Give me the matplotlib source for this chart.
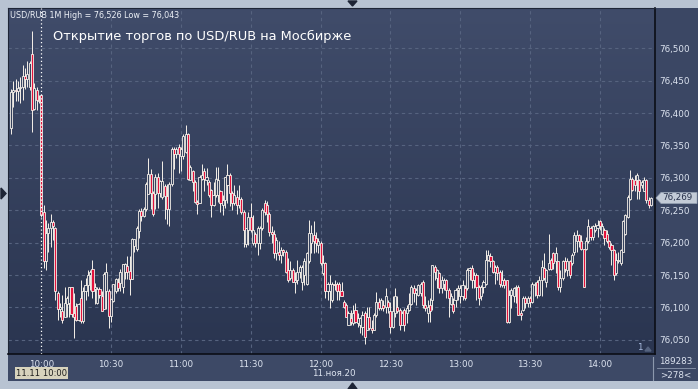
import numpy as np
import matplotlib
matplotlib.use('Agg')
import matplotlib.pyplot as plt
from matplotlib.colors import LinearSegmentedColormap
from matplotlib.patches import Rectangle, Polygon

# USD/RUB 1-minute candles, 11.11.2020; minutes counted from 10:00
minutes = np.arange(-13, 263)

opens = [
    76.377, 76.432, 76.436, 76.434, 76.438, 76.440, 76.458, 76.452, 76.440, 76.491,
    76.407, 76.436, 76.420, 76.428, 76.248, 76.171, 76.215, 76.222, 76.232, 76.222,
    76.122, 76.097, 76.094, 76.086, 76.105, 76.107, 76.132, 76.091, 76.102, 76.081,
    76.114, 76.079, 76.125, 76.135, 76.150, 76.159, 76.128, 76.107, 76.128, 76.118,
    76.097, 76.125, 76.125, 76.087, 76.110, 76.125, 76.140, 76.138, 76.131, 76.154,
    76.164, 76.156, 76.144, 76.195, 76.190, 76.218, 76.249, 76.241, 76.252, 76.275,
    76.306, 76.277, 76.275, 76.301, 76.277, 76.270, 76.288, 76.272, 76.252, 76.290,
    76.344, 76.337, 76.347, 76.334, 76.334, 76.340, 76.367, 76.297, 76.310, 76.294,
    76.263, 76.262, 76.299, 76.310, 76.297, 76.294, 76.281, 76.258, 76.274, 76.274,
    76.279, 76.258, 76.266, 76.289, 76.305, 76.276, 76.261, 76.271, 76.258, 76.268,
    76.248, 76.198, 76.220, 76.239, 76.199, 76.214, 76.199, 76.199, 76.222, 76.261,
    76.258, 76.245, 76.217, 76.214, 76.184, 76.186, 76.181, 76.189, 76.186, 76.158,
    76.145, 76.158, 76.140, 76.143, 76.155, 76.140, 76.150, 76.137, 76.171, 76.199,
    76.212, 76.207, 76.197, 76.199, 76.153, 76.168, 76.125, 76.125, 76.112, 76.137,
    76.137, 76.137, 76.125, 76.109, 76.104, 76.073, 76.083, 76.076, 76.096, 76.076,
    76.073, 76.070, 76.091, 76.065, 76.086, 76.068, 76.065, 76.088, 76.109, 76.099,
    76.104, 76.101, 76.109, 76.094, 76.070, 76.091, 76.101, 76.096, 76.073, 76.096,
    76.091, 76.096, 76.106, 76.130, 76.122, 76.119, 76.122, 76.140, 76.104, 76.091,
    76.104, 76.112, 76.163, 76.145, 76.153, 76.130, 76.137, 76.142, 76.127, 76.106,
    76.106, 76.112, 76.127, 76.117, 76.117, 76.130, 76.130, 76.158, 76.161, 76.143,
    76.150, 76.132, 76.117, 76.132, 76.137, 76.173, 76.180, 76.171, 76.155, 76.163,
    76.155, 76.135, 76.143, 76.143, 76.078, 76.119, 76.117, 76.130, 76.132, 76.091,
    76.096, 76.114, 76.107, 76.114, 76.109, 76.135, 76.140, 76.119, 76.143, 76.161,
    76.140, 76.160, 76.173, 76.184, 76.171, 76.171, 76.132, 76.145, 76.171, 76.158,
    76.171, 76.168, 76.186, 76.202, 76.212, 76.202, 76.191, 76.191, 76.202, 76.222,
    76.209, 76.220, 76.222, 76.233, 76.214, 76.220, 76.214, 76.202, 76.196, 76.189,
    76.153, 76.171, 76.168, 76.186, 76.214, 76.240, 76.268, 76.299, 76.297, 76.297,
    76.297, 76.289, 76.279, 76.297, 76.266, 76.258,
]
highs = [
    76.437, 76.449, 76.452, 76.450, 76.456, 76.474, 76.470, 76.480, 76.480, 76.526,
    76.446, 76.440, 76.428, 76.430, 76.258, 76.235, 76.230, 76.245, 76.235, 76.224,
    76.125, 76.107, 76.120, 76.132, 76.117, 76.132, 76.132, 76.122, 76.107, 76.107,
    76.143, 76.132, 76.145, 76.158, 76.158, 76.174, 76.138, 76.131, 76.131, 76.125,
    76.154, 76.169, 76.128, 76.113, 76.136, 76.146, 76.146, 76.159, 76.167, 76.169,
    76.180, 76.180, 76.208, 76.206, 76.226, 76.252, 76.254, 76.255, 76.293, 76.331,
    76.313, 76.280, 76.306, 76.308, 76.296, 76.326, 76.290, 76.290, 76.293, 76.347,
    76.347, 76.347, 76.352, 76.347, 76.368, 76.382, 76.369, 76.320, 76.312, 76.296,
    76.266, 76.304, 76.321, 76.315, 76.315, 76.297, 76.283, 76.294, 76.317, 76.317,
    76.281, 76.274, 76.302, 76.321, 76.307, 76.279, 76.289, 76.281, 76.289, 76.271,
    76.250, 76.222, 76.248, 76.261, 76.243, 76.217, 76.225, 76.225, 76.253, 76.266,
    76.264, 76.248, 76.225, 76.220, 76.209, 76.202, 76.194, 76.191, 76.189, 76.176,
    76.171, 76.161, 76.155, 76.173, 76.166, 76.166, 76.176, 76.186, 76.235, 76.227,
    76.233, 76.217, 76.207, 76.202, 76.181, 76.170, 76.140, 76.150, 76.140, 76.143,
    76.140, 76.140, 76.140, 76.112, 76.107, 76.094, 76.096, 76.104, 76.107, 76.091,
    76.086, 76.094, 76.094, 76.101, 76.101, 76.081, 76.091, 76.124, 76.114, 76.114,
    76.112, 76.130, 76.112, 76.109, 76.117, 76.130, 76.117, 76.099, 76.094, 76.099,
    76.104, 76.122, 76.135, 76.135, 76.130, 76.137, 76.140, 76.142, 76.117, 76.112,
    76.114, 76.166, 76.166, 76.160, 76.154, 76.148, 76.145, 76.144, 76.130, 76.122,
    76.114, 76.130, 76.135, 76.135, 76.143, 76.135, 76.161, 76.163, 76.166, 76.155,
    76.153, 76.135, 76.135, 76.143, 76.189, 76.189, 76.184, 76.173, 76.166, 76.166,
    76.158, 76.158, 76.145, 76.143, 76.127, 76.130, 76.132, 76.135, 76.135, 76.096,
    76.117, 76.117, 76.117, 76.117, 76.140, 76.140, 76.143, 76.148, 76.173, 76.184,
    76.160, 76.213, 76.176, 76.186, 76.194, 76.171, 76.158, 76.173, 76.178, 76.176,
    76.173, 76.184, 76.217, 76.220, 76.214, 76.212, 76.191, 76.209, 76.237, 76.225,
    76.227, 76.230, 76.235, 76.235, 76.230, 76.222, 76.220, 76.204, 76.199, 76.191,
    76.184, 76.186, 76.191, 76.235, 76.245, 76.274, 76.312, 76.302, 76.304, 76.307,
    76.299, 76.297, 76.302, 76.299, 76.271, 76.271,
]
lows = [
    76.368, 76.410, 76.418, 76.418, 76.415, 76.420, 76.437, 76.440, 76.436, 76.371,
    76.405, 76.405, 76.415, 76.240, 76.161, 76.158, 76.185, 76.194, 76.204, 76.112,
    76.081, 76.086, 76.076, 76.086, 76.086, 76.086, 76.086, 76.053, 76.079, 76.079,
    76.076, 76.076, 76.112, 76.117, 76.127, 76.115, 76.105, 76.105, 76.115, 76.095,
    76.097, 76.097, 76.069, 76.077, 76.108, 76.123, 76.125, 76.125, 76.123, 76.144,
    76.144, 76.120, 76.144, 76.185, 76.187, 76.208, 76.234, 76.240, 76.249, 76.275,
    76.252, 76.241, 76.252, 76.254, 76.270, 76.267, 76.236, 76.229, 76.226, 76.288,
    76.313, 76.330, 76.308, 76.310, 76.329, 76.338, 76.297, 76.297, 76.279, 76.262,
    76.245, 76.262, 76.297, 76.279, 76.289, 76.271, 76.240, 76.256, 76.271, 76.263,
    76.248, 76.243, 76.253, 76.261, 76.256, 76.250, 76.258, 76.245, 76.253, 76.245,
    76.194, 76.194, 76.196, 76.216, 76.196, 76.194, 76.181, 76.191, 76.220, 76.243,
    76.232, 76.210, 76.199, 76.176, 76.173, 76.173, 76.168, 76.179, 76.153, 76.140,
    76.143, 76.140, 76.122, 76.137, 76.145, 76.127, 76.135, 76.135, 76.168, 76.184,
    76.184, 76.186, 76.184, 76.166, 76.150, 76.114, 76.112, 76.099, 76.109, 76.127,
    76.112, 76.112, 76.117, 76.099, 76.086, 76.073, 76.073, 76.073, 76.076, 76.070,
    76.060, 76.058, 76.043, 76.065, 76.065, 76.060, 76.065, 76.086, 76.096, 76.096,
    76.094, 76.091, 76.091, 76.060, 76.068, 76.086, 76.091, 76.065, 76.073, 76.063,
    76.076, 76.094, 76.104, 76.109, 76.104, 76.117, 76.117, 76.099, 76.094, 76.078,
    76.078, 76.096, 76.142, 76.130, 76.122, 76.122, 76.127, 76.114, 76.086, 76.104,
    76.091, 76.101, 76.112, 76.107, 76.112, 76.112, 76.127, 76.143, 76.130, 76.130,
    76.112, 76.104, 76.112, 76.122, 76.135, 76.171, 76.163, 76.153, 76.137, 76.143,
    76.132, 76.132, 76.130, 76.076, 76.076, 76.099, 76.109, 76.107, 76.089, 76.081,
    76.094, 76.099, 76.101, 76.101, 76.107, 76.117, 76.114, 76.117, 76.117, 76.143,
    76.132, 76.158, 76.158, 76.160, 76.153, 76.127, 76.124, 76.142, 76.155, 76.148,
    76.145, 76.166, 76.181, 76.186, 76.194, 76.189, 76.132, 76.189, 76.199, 76.204,
    76.204, 76.217, 76.209, 76.220, 76.212, 76.196, 76.199, 76.191, 76.166, 76.142,
    76.150, 76.168, 76.166, 76.186, 76.212, 76.238, 76.266, 76.279, 76.279, 76.268,
    76.268, 76.284, 76.279, 76.261, 76.253, 76.256,
]
closes = [
    76.432, 76.436, 76.434, 76.438, 76.440, 76.458, 76.452, 76.460, 76.478, 76.405,
    76.438, 76.420, 76.418, 76.243, 76.171, 76.215, 76.222, 76.232, 76.225, 76.125,
    76.097, 76.100, 76.081, 76.107, 76.115, 76.132, 76.090, 76.086, 76.081, 76.105,
    76.079, 76.125, 76.135, 76.150, 76.155, 76.125, 76.131, 76.128, 76.120, 76.095,
    76.151, 76.154, 76.087, 76.113, 76.136, 76.144, 76.130, 76.154, 76.167, 76.167,
    76.154, 76.144, 76.205, 76.205, 76.223, 76.249, 76.241, 76.252, 76.290, 76.306,
    76.277, 76.244, 76.301, 76.277, 76.295, 76.295, 76.272, 76.252, 76.290, 76.344,
    76.337, 76.345, 76.337, 76.345, 76.365, 76.367, 76.299, 76.317, 76.294, 76.263,
    76.260, 76.302, 76.304, 76.299, 76.302, 76.274, 76.258, 76.274, 76.299, 76.297,
    76.261, 76.266, 76.302, 76.305, 76.276, 76.261, 76.274, 76.258, 76.268, 76.248,
    76.220, 76.222, 76.239, 76.220, 76.220, 76.199, 76.222, 76.223, 76.250, 76.248,
    76.245, 76.217, 76.214, 76.184, 76.204, 76.181, 76.189, 76.186, 76.155, 76.143,
    76.158, 76.140, 76.143, 76.155, 76.163, 76.163, 76.171, 76.184, 76.215, 76.215,
    76.202, 76.199, 76.202, 76.168, 76.168, 76.125, 76.137, 76.137, 76.137, 76.135,
    76.125, 76.125, 76.117, 76.101, 76.086, 76.091, 76.078, 76.091, 76.078, 76.083,
    76.083, 76.089, 76.055, 76.086, 76.068, 76.065, 76.088, 76.109, 76.099, 76.112,
    76.099, 76.117, 76.101, 76.070, 76.094, 76.117, 76.094, 76.073, 76.091, 76.073,
    76.099, 76.106, 76.132, 76.122, 76.127, 76.135, 76.137, 76.104, 76.099, 76.101,
    76.094, 76.166, 76.155, 76.158, 76.130, 76.142, 76.142, 76.127, 76.114, 76.117,
    76.094, 76.127, 76.130, 76.130, 76.135, 76.114, 76.158, 76.161, 76.143, 76.150,
    76.132, 76.114, 76.132, 76.140, 76.173, 76.181, 76.171, 76.155, 76.163, 76.153,
    76.137, 76.143, 76.135, 76.078, 76.119, 76.127, 76.130, 76.132, 76.089, 76.089,
    76.114, 76.107, 76.114, 76.109, 76.137, 76.137, 76.119, 76.143, 76.163, 76.146,
    76.158, 76.168, 76.160, 76.168, 76.184, 76.132, 76.145, 76.171, 76.160, 76.171,
    76.150, 76.181, 76.212, 76.212, 76.202, 76.191, 76.132, 76.202, 76.225, 76.209,
    76.225, 76.225, 76.227, 76.225, 76.225, 76.207, 76.202, 76.194, 76.189, 76.150,
    76.173, 76.173, 76.189, 76.233, 76.243, 76.271, 76.299, 76.281, 76.289, 76.304,
    76.279, 76.294, 76.297, 76.266, 76.258, 76.269,
]

price_grid = [76.05, 76.10, 76.15, 76.20, 76.25, 76.30, 76.35, 76.40, 76.45, 76.50]
time_ticks = [0, 30, 60, 90, 120, 150, 180, 210, 240]
time_labels = ['10:00', '10:30', '11:00', '11:30', '12:00', '12:30', '13:00', '13:30', '14:00']
title = 'Открытие торгов по USD/RUB на Мосбирже'

W, H = 698, 389
fig = plt.figure(figsize=(W / 100, H / 100), dpi=100)
fig.patch.set_facecolor('#b8c3d2')

# pixel-space background layer (under the chart)
bg = fig.add_axes([0, 0, 1, 1])
bg.set_xlim(0, W)
bg.set_ylim(H, 0)
bg.axis('off')
bg.set_zorder(0)
bg.add_patch(Rectangle((8, 8), W - 8, 373, facecolor='#3b4764', edgecolor='none'))
bg.add_patch(Rectangle((8, 354), 647, 27, facecolor='#3d4966', edgecolor='none'))
# little arrows on the frame
bg.add_patch(Polygon([(1, 188), (1, 199), (6, 193.5)], closed=True, color='#1d2435'))
bg.add_patch(Polygon([(348, 1), (357, 1), (352.5, 6)], closed=True, color='#1d2435'))
bg.add_patch(Polygon([(348, 389), (357, 389), (352.5, 383)], closed=True, color='#1d2435'))

# main price axes
x0, x1 = 8, 655
y0, y1 = 8, 354
ax = fig.add_axes([x0 / W, (H - y1) / H, (x1 - x0) / W, (y1 - y0) / H])
ax.set_zorder(1)
t_min, t_max = -14.3, 263.7
p_min, p_max = 76.0282, 76.5622
ax.set_xlim(t_min, t_max)
ax.set_ylim(p_min, p_max)

cmap = LinearSegmentedColormap.from_list('bgfade', ['#2a3550', '#404c6a'])
grad = np.linspace(0, 1, 256).reshape(-1, 1)
ax.imshow(grad, extent=[t_min, t_max, p_min, p_max], origin='lower',
          aspect='auto', cmap=cmap, zorder=0)

grid_col = '#56637f'
for p in price_grid:
    ax.axhline(p, color=grid_col, lw=0.8, ls=(0, (3, 3)), zorder=1)
for t in time_ticks[1:]:
    ax.axvline(t, color=grid_col, lw=0.8, ls=(0, (3, 3)), zorder=1)

# candles: hollow up bars, red down bars, white outlines
o = np.array(opens)
h = np.array(highs)
l = np.array(lows)
c = np.array(closes)
edge = '#f6f1ea'
ax.vlines(minutes, l, h, color=edge, lw=0.7, zorder=3)
up = c >= o
body_lo = np.minimum(o, c)
body_h = np.maximum(np.abs(c - o), 0.0012)
ax.bar(minutes[up], body_h[up], bottom=body_lo[up], width=0.9,
       color='#34405c', edgecolor=edge, linewidth=0.6, zorder=4)
ax.bar(minutes[~up], body_h[~up], bottom=body_lo[~up], width=0.9,
       color='#e3123c', edgecolor=edge, linewidth=0.6, zorder=4)

# session start marker
ax.axvline(0, color='white', lw=0.9, ls=(0, (1, 2)), zorder=5)

ax.yaxis.tick_right()
ax.set_yticks(price_grid)
ax.set_yticklabels([f'{p:.3f}'.replace('.', ',') for p in price_grid])
ax.set_xticks(time_ticks)
ax.set_xticklabels(time_labels)
ax.tick_params(axis='both', length=0, colors='#dde4f0', labelsize=6.3)
ax.tick_params(axis='y', pad=3)
ax.tick_params(axis='x', pad=4)
for s in ['left', 'top']:
    ax.spines[s].set_color('#1e2536')
for s in ['right', 'bottom']:
    ax.spines[s].set_color('#0b0e16')
    ax.spines[s].set_linewidth(1.2)

# overlay layer for texts and tags (above the chart)
top = fig.add_axes([0, 0, 1, 1])
top.set_xlim(0, W)
top.set_ylim(H, 0)
top.axis('off')
top.set_zorder(2)
top.patch.set_alpha(0)

hi_txt = f'{h.max():.3f}'.replace('.', ',')
lo_txt = f'{l.min():.3f}'.replace('.', ',')
top.text(10, 15, f'USD/RUB 1M High = {hi_txt} Low = {lo_txt}', color='#eef2f8',
         fontsize=5.8, va='center', ha='left')
top.text(53, 36, title, color='white', fontsize=9.4, va='center', ha='left')

# last price tag
last = c[-1]
y_last = y0 + (p_max - last) / (p_max - p_min) * (y1 - y0)
top.add_patch(Polygon([(656, y_last), (661, y_last - 5.5), (697, y_last - 5.5),
                       (697, y_last + 5.5), (661, y_last + 5.5)],
                      closed=True, facecolor='#c3cbd7', edgecolor='#9aa6b8', lw=0.5))
top.text(662, y_last, f'{last:.3f}'.replace('.', ','), color='#26304a', fontsize=6.3,
         va='center', ha='left')

# bottom bar details
top.add_patch(Rectangle((15, 367), 53, 12, facecolor='#d7d3bd', edgecolor='none'))
top.text(41.5, 373, '11.11 10:00', color='#1c1c1c', fontsize=6.1, ha='center', va='center')
top.text(334, 373, '11.ноя.20', color='#dde4f0', fontsize=6.3, ha='center', va='center')
top.text(640, 348, '1', color='#a9bbdf', fontsize=6.3, ha='center', va='center')
top.add_patch(Polygon([(645, 351), (651, 351), (648, 347)], closed=True, color='#55637f'))
top.plot([653, 653], [357, 380], color='#8c98ad', lw=0.8)
top.plot([657, 695], [368, 368], color='#8c98ad', lw=0.6)
top.text(676, 362, '189283', color='#dde4f0', fontsize=6.3, ha='center', va='center')
top.text(676, 375, '>278<', color='#dde4f0', fontsize=6.3, ha='center', va='center')

fig.savefig('out.png', dpi=100, facecolor=fig.get_facecolor())
